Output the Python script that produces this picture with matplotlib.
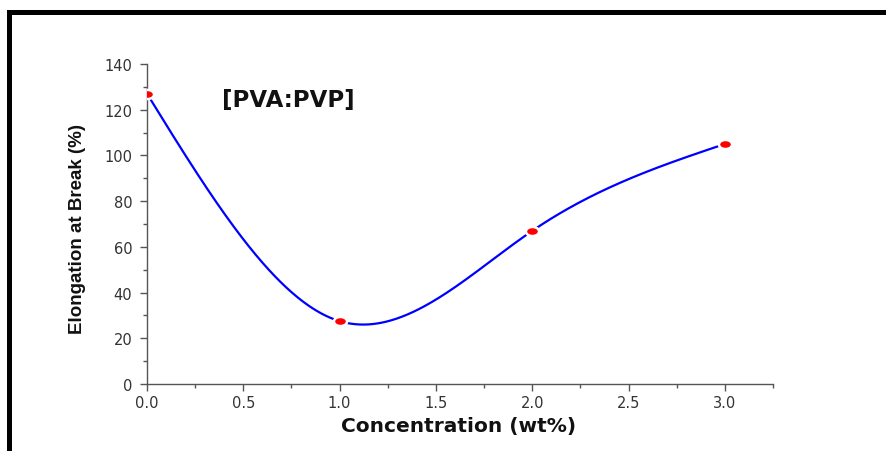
import numpy as np
import matplotlib
matplotlib.use("Agg")
import matplotlib.pyplot as plt
from matplotlib.patches import Rectangle
from matplotlib.path import Path
from matplotlib.ticker import MultipleLocator

# Elongation at break of PVA:PVP films versus filler concentration
concentration = [0.0, 1.0, 2.0, 3.0]          # wt%
elongation = [127.0, 27.5, 67.0, 105.0]       # %

x_ticks = [0.0, 0.5, 1.0, 1.5, 2.0, 2.5, 3.0]
y_ticks = [0, 20, 40, 60, 80, 100, 120, 140]


def natural_spline(xk, yk, n=400):
    """Natural cubic spline through the knots (xk, yk)."""
    xk = np.asarray(xk, float)
    yk = np.asarray(yk, float)
    k = len(xk)
    h = np.diff(xk)
    A = np.zeros((k, k))
    b = np.zeros(k)
    A[0, 0] = A[-1, -1] = 1.0
    for i in range(1, k - 1):
        A[i, i - 1] = h[i - 1]
        A[i, i] = 2 * (h[i - 1] + h[i])
        A[i, i + 1] = h[i]
        b[i] = 6 * ((yk[i + 1] - yk[i]) / h[i] - (yk[i] - yk[i - 1]) / h[i - 1])
    M = np.linalg.solve(A, b)
    xs = np.linspace(xk[0], xk[-1], n)
    idx = np.clip(np.searchsorted(xk, xs) - 1, 0, k - 2)
    x0, x1 = xk[idx], xk[idx + 1]
    hh = x1 - x0
    ys = (M[idx] * (x1 - xs) ** 3 / (6 * hh) + M[idx + 1] * (xs - x0) ** 3 / (6 * hh)
          + (yk[idx] - M[idx] * hh ** 2 / 6) * (x1 - xs) / hh
          + (yk[idx + 1] - M[idx + 1] * hh ** 2 / 6) * (xs - x0) / hh)
    return xs, ys


W, H = 886, 452
fig = plt.figure(figsize=(W / 100, H / 100), dpi=100)
fig.patch.set_facecolor("white")

# plot area in pixel terms
left, right, bottom, top = 147, 773, 385, 65
ax = fig.add_axes([left / W, 1 - bottom / H, (right - left) / W, (bottom - top) / H])

xs, ys = natural_spline(concentration, elongation)
ax.plot(xs, ys, color="#0000ff", lw=1.6, zorder=2, solid_capstyle="round")

# slightly flattened dot, white rim leaves a gap in the curve around each point
circ = Path.unit_circle()
ellipse = Path(circ.vertices * np.array([1.45, 1.0]), circ.codes)
ax.plot(concentration, elongation, linestyle="none", marker=ellipse,
        markersize=9.5, markerfacecolor="#ff0000", markeredgecolor="white",
        markeredgewidth=1.8, zorder=3)

ax.set_xlim(0, 3.25)
ax.set_ylim(0, 140)

spine_col = "#555555"
for side in ("top", "right"):
    ax.spines[side].set_visible(False)
for side in ("left", "bottom"):
    ax.spines[side].set_color(spine_col)
    ax.spines[side].set_linewidth(1.0)

ax.set_xticks(x_ticks)
ax.set_xticklabels([f"{v:.1f}" for v in x_ticks])
ax.set_yticks(y_ticks)
ax.set_yticklabels([str(v) for v in y_ticks])
ax.xaxis.set_minor_locator(MultipleLocator(0.25))
ax.yaxis.set_minor_locator(MultipleLocator(10))

ax.tick_params(which="major", direction="out", length=5, width=1.0,
               color=spine_col, labelsize=10.5, labelcolor="#333333")
ax.tick_params(which="minor", direction="out", length=3, width=1.0, color=spine_col)
ax.tick_params(axis="y", which="major", pad=5.5)
ax.tick_params(axis="x", which="major", pad=3)
for lab in ax.get_xticklabels() + ax.get_yticklabels():
    lab.set_family("DejaVu Sans")

# axis titles and sample label
fig.text(459 / W, 1 - 427 / H, "Concentration (wt%)", ha="center", va="center",
         fontsize=14.5, fontweight="bold", family="DejaVu Sans", color="#111111")
fig.text(77 / W, 1 - 229 / H, "Elongation at Break (%)", ha="center", va="center",
         rotation=90, fontsize=13.5, fontweight="bold",
         family="Liberation Sans", color="#111111")
fig.text(288 / W, 1 - 101 / H, "[PVA:PVP]", ha="center", va="center",
         fontsize=16.5, fontweight="bold", family="DejaVu Sans", color="#111111")

# heavy frame lines along the top and left edges
fig.add_artist(Rectangle((7 / W, 1 - 16 / H), 1 - 7 / W, 5 / H,
                         transform=fig.transFigure, facecolor="black",
                         edgecolor="none", zorder=10))
fig.add_artist(Rectangle((7 / W, 0), 5 / W, 1 - 11 / H,
                         transform=fig.transFigure, facecolor="black",
                         edgecolor="none", zorder=10))

fig.savefig("out.png", dpi=100)
